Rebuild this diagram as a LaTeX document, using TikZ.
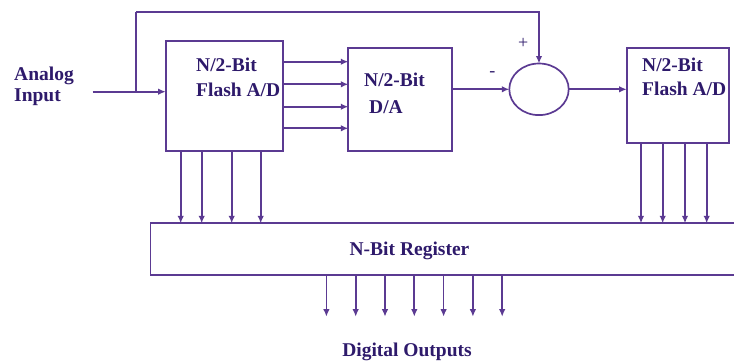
\documentclass[tikz,border=0pt]{standalone}
\usepackage{fontspec}
\setmainfont{Liberation Serif}
\usetikzlibrary{arrows.meta,shapes.geometric}
\definecolor{linecol}{HTML}{5B3A92}
\definecolor{textcol}{HTML}{2E1A6B}
\tikzset{
  blk/.style={draw=linecol, line width=1.7pt, rectangle, inner sep=0pt, outer sep=0pt},
  sumnode/.style={draw=linecol, line width=1.7pt, ellipse, inner sep=0pt, outer sep=0pt},
  wire/.style={draw=linecol, line width=1.7pt},
  arr/.style={wire, -{Latex[length=7.5pt,width=6.5pt]}},
  lbl/.style={text=textcol, font=\fontsize{19.5}{22}\selectfont\bfseries, inner sep=0pt, anchor=base west},
  sign/.style={text=textcol, font=\fontsize{18}{20}\selectfont, inner sep=0pt},
}
\begin{document}
\begin{tikzpicture}[x=1pt, y=-1pt]
\clip (0,0) rectangle (734,360);
\useasboundingbox (0,0) rectangle (734,360);
% blocks
\node[blk, minimum width=117pt, minimum height=109.7pt] (adc1) at (224.2,95.9) {};
\node[blk, minimum width=103.4pt, minimum height=102.4pt] (dac) at (400,99.5) {};
\node[sumnode, minimum width=59.4pt, minimum height=51.6pt] (sum) at (539,89.3) {};
\node[blk, minimum width=102.3pt, minimum height=95pt] (adc2) at (677.85,95.8) {};
\node[blk, minimum width=590pt, minimum height=51.7pt] (reg) at (445.5,249.15) {};
% labels
\node[lbl] (tA1) at (14,80) {Analog};
\node[lbl] (tA2) at (14,101.7) {Input};
\node[lbl] (t11) at (196,71.7) {N/2-Bit};
\node[lbl] (t12) at (196,96) {Flash A/D};
\node[lbl] (t21) at (364,86) {N/2-Bit};
\node[lbl] (t22) at (369,113) {D/A};
\node[lbl] (t31) at (642,71) {N/2-Bit};
\node[lbl] (t32) at (642,95) {Flash A/D};
\node[lbl, anchor=base] (treg) at (409.5,255) {N-Bit Register};
\node[lbl, anchor=base] (tout) at (407,356) {Digital Outputs};
\node[sign] (plus) at (523.3,43.3) {+};
\node[sign] (minus) at (492.3,74) {-};
% input and feedback
\coordinate (in) at (92.7,91.7);
\coordinate (tap) at (136,91.7);
\coordinate (fb) at (136,11.7);
\draw[arr] (in) -- (in -| adc1.west);
\draw[wire] (tap) -- (fb);
\draw[arr] (fb) -| (sum.north);
% adc1 -> dac
\foreach \y in {61.7,84.3,106.7,128.3}
  \draw[arr] (adc1.east |- 0,\y) -- (dac.west |- 0,\y);
% dac -> sum -> adc2
\draw[arr] (dac.east |- sum.west) -- (sum.west);
\draw[arr] (sum.east) -- (sum.east -| adc2.west);
% to register
\foreach \x in {180.7,201.7,231.7,260.7}
  \draw[arr] (\x,0 |- adc1.south) -- (\x,0 |- reg.north);
\foreach \x in {641,662.7,685,706.7}
  \draw[arr] (\x,0 |- adc2.south) -- (\x,0 |- reg.north);
% outputs
\foreach \k in {0,...,6}{
  \coordinate (o\k) at ({326.4+29.3*\k},316.7);
  \draw[arr] (o\k |- reg.south) -- (o\k);
}
\end{tikzpicture}
\end{document}
